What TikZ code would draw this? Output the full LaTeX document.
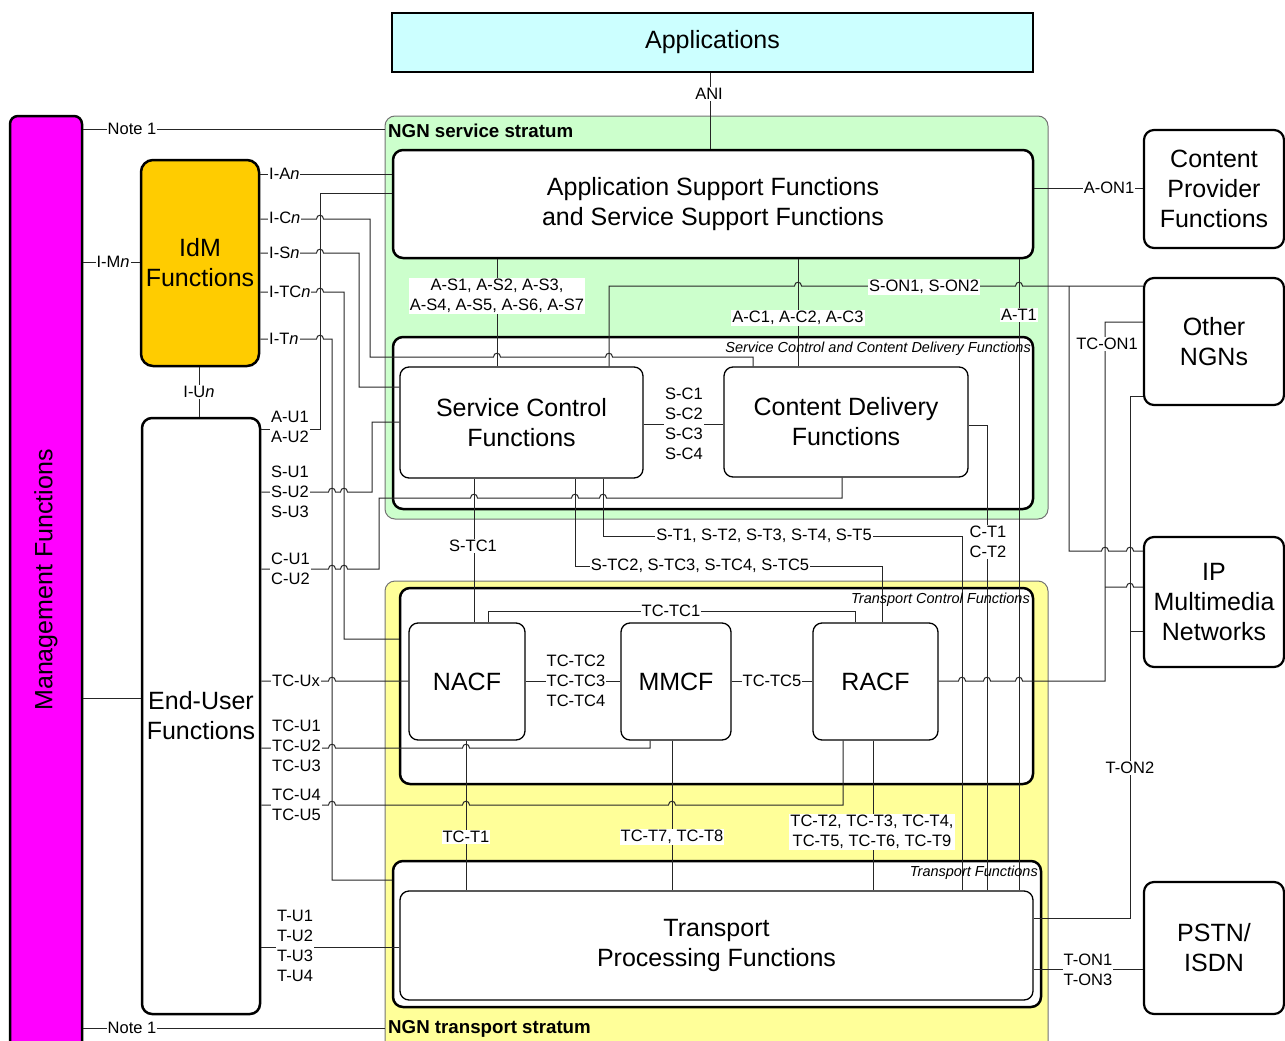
\documentclass[tikz,border=0pt]{standalone}
\usepackage{fontspec}
\setmainfont{Liberation Sans}
\definecolor{mgmtc}{HTML}{FF00FF}
\definecolor{appc}{HTML}{CCFFFF}
\definecolor{svcc}{HTML}{CCFFCC}
\definecolor{trnc}{HTML}{FFFF99}
\definecolor{idmc}{HTML}{FFCC00}
\newcommand\BoxFont{\fontsize{25}{30}\selectfont}
\newcommand\LblFont{\fontsize{16.5}{20}\selectfont}
\newcommand\TagFont{\fontsize{14.5}{17}\selectfont\itshape}
\newcommand\StratFont{\fontsize{18.7}{21}\selectfont\bfseries}
% a small bridge where a horizontal wire jumps over a vertical one
\newcommand\hop[2]{-- (#1-3.5,#2) .. controls (#1-3.5,#2-5) and (#1+3.5,#2-5) .. (#1+3.5,#2)}
\begin{document}
\begin{tikzpicture}[x=1pt,y=-1pt,
  sz/.style 2 args={minimum width=#1pt, minimum height=#2pt},
  heavybox/.style={draw=black, line width=2.5pt, rounded corners=10pt, fill=white,
    inner sep=0pt, align=center, font=\BoxFont},
  lightbox/.style={draw=black, line width=1.3pt, rounded corners=9pt, fill=white,
    inner sep=0pt, align=center, font=\BoxFont},
  extbox/.style={draw=black, line width=2.2pt, rounded corners=10pt, fill=white,
    inner sep=0pt, align=center, font=\BoxFont},
  stratum/.style={draw=black!55, line width=1pt, rounded corners=10pt, inner sep=0pt},
  wire/.style={draw=black!85, line width=1pt},
  lbl/.style={fill=white, inner sep=1pt, font=\LblFont, align=center},
  lbll/.style={fill=white, inner sep=1pt, font=\LblFont, align=left, anchor=west},
  tag/.style={inner sep=0pt, font=\TagFont, anchor=east},
  strat/.style={inner sep=0pt, font=\StratFont, anchor=west}]
\useasboundingbox (0,0) rectangle (1285,1041);

% strata and management column
\node[stratum, fill=svcc, sz={663}{403}] (svc) at (716.5,317.5) {};
\node[stratum, fill=trnc, sz={663}{480}] (trn) at (716.5,821) {};
\node[heavybox, fill=mgmtc, rounded corners=8pt, sz={72}{945}] (mgmt) at (46,588.5) {};
\node[rotate=90, font=\BoxFont] (mgmtt) at (46,580) {Management Functions};

% top level boxes
\node[heavybox, fill=appc, rounded corners=0pt, sz={641}{59}] (apps) at (712.5,42.5) {Applications};
\node[heavybox, sz={640}{108}] (asf) at (713,204) {Application Support Functions\\and Service Support Functions};
\node[heavybox, sz={640}{172}] (sccd) at (713,423) {};
\node[lightbox, sz={243}{111}] (scf) at (521.5,422.5) {Service Control\\Functions};
\node[lightbox, sz={244}{110}] (cdf) at (846,422) {Content Delivery\\Functions};
\node[heavybox, sz={633}{196}] (tcf) at (716.5,686) {};
\node[lightbox, sz={116}{117}] (nacf) at (467,681.5) {NACF};
\node[lightbox, sz={110}{117}] (mmcf) at (676,681.5) {MMCF};
\node[lightbox, sz={125}{117}] (racf) at (875.5,681.5) {RACF};
\node[heavybox, sz={648}{146}] (tf) at (717,934) {};
\node[lightbox, sz={633}{109}] (tpf) at (716.5,945.5) {Transport\\Processing Functions};
\node[heavybox, fill=idmc, rounded corners=12pt, sz={118}{206}] (idm) at (200,263) {IdM\\Functions};
\node[heavybox, sz={118}{596}] (euf) at (201,716) {End-User\\Functions};
\node[extbox, sz={140}{118}] (cpf) at (1214,189) {Content\\Provider\\Functions};
\node[extbox, sz={140}{127}] (ongn) at (1214,341.5) {Other\\NGNs};
\node[extbox, sz={140}{130}] (ipmn) at (1214,602) {IP\\Multimedia\\Networks};
\node[extbox, sz={140}{132}] (pstn) at (1214,948) {PSTN/\\ISDN};

% junctions of branching wires
\coordinate (sonj) at (1069,286);
\coordinate (tconj) at (1105,587);
\coordinate (tonj) at (1130,631);

% wires on the left
\draw[wire] (mgmt.east|-0,129) -- (svc.west|-0,129);
\draw[wire] (mgmt.east|-0,1028) -- (trn.west|-0,1028);
\draw[wire] (mgmt.east|-0,262) -- (idm.west|-0,262);
\draw[wire] (mgmt.east|-0,698) -- (euf.west|-0,698);
\draw[wire] (apps.south-|710,0) -- (asf.north-|710,0);
\draw[wire] (idm.east|-0,174) -- (asf.west|-0,174);
\draw[wire] (euf.east|-0,429) -- (320,429) -- (320,193) -- (asf.west|-0,193);
\draw[wire] (idm.east|-0,219) \hop{320}{219} -- (370,219) -- (370,357) \hop{497}{357} \hop{609}{357} -- (753,357) -- (cdf.north-|753,0);
\draw[wire] (idm.east|-0,253) \hop{320}{253} -- (359,253) -- (359,387) -- (scf.west|-0,387);
\draw[wire] (idm.east|-0,292) \hop{320}{292} -- (344,292) -- (344,639) -- (tcf.west|-0,639);
\draw[wire] (idm.east|-0,339) \hop{320}{339} -- (332,339) -- (332,880) -- (tf.west|-0,880);
\draw[wire] (idm.south-|199,0) -- (euf.north-|199,0);
\draw[wire] (euf.east|-0,492) \hop{332}{492} \hop{344}{492} -- (372,492) -- (372,422) -- (scf.west|-0,422);
\draw[wire] (euf.east|-0,569) \hop{332}{569} \hop{344}{569} -- (379,569) -- (379,498) \hop{474}{498} \hop{575}{498} \hop{603}{498} -- (842,498) -- (cdf.south-|842,0);
\draw[wire] (euf.east|-0,681) \hop{332}{681} -- (nacf.west|-0,681);
\draw[wire] (euf.east|-0,748) \hop{332}{748} \hop{466}{748} -- (650,748) -- (mmcf.south-|650,0);
\draw[wire] (euf.east|-0,805) \hop{332}{805} \hop{466}{805} \hop{672}{805} -- (843,805) -- (racf.south-|843,0);
\draw[wire] (euf.east|-0,947) -- (tpf.west|-0,947);

% wires inside the strata
\draw[wire] (asf.south-|497,0) -- (scf.north-|497,0);
\draw[wire] (asf.south-|798,0) -- (cdf.north-|798,0);
\draw[wire] (scf.north-|609,0) -- (609,286) \hop{798}{286} \hop{1019}{286} -- (ongn.west|-0,286);
\draw[wire] (sonj) -- (1069,551) \hop{1105}{551} \hop{1130}{551} -- (ipmn.west|-0,551);
\draw[wire] (asf.south-|1019,0) -- (tpf.north-|1019,0);
\draw[wire] (asf.east|-0,188) -- (cpf.west|-0,188);
\draw[wire] (scf.east|-0,424) -- (cdf.west|-0,424);
\draw[wire] (cdf.east|-0,425) -- (987,425) -- (tpf.north-|987,0);
\draw[wire] (scf.south-|603,0) -- (603,536) -- (962,536) -- (tpf.north-|962,0);
\draw[wire] (scf.south-|575,0) -- (575,566) -- (882,566) -- (racf.north-|882,0);
\draw[wire] (scf.south-|474,0) -- (nacf.north-|474,0);
\draw[wire] (nacf.north-|488,0) -- (488,611) -- (855,611) -- (racf.north-|855,0);
\draw[wire] (nacf.east|-0,681) -- (mmcf.west|-0,681);
\draw[wire] (mmcf.east|-0,681) -- (racf.west|-0,681);
\draw[wire] (nacf.south-|466,0) -- (tpf.north-|466,0);
\draw[wire] (mmcf.south-|672,0) -- (tpf.north-|672,0);
\draw[wire] (racf.south-|873,0) -- (tpf.north-|873,0);

% wires to the other networks
\draw[wire] (racf.east|-0,681) \hop{962}{681} \hop{987}{681} \hop{1019}{681} -- (1105,681) -- (1105,322) -- (ongn.west|-0,322);
\draw[wire] (tconj) \hop{1130}{587} -- (ipmn.west|-0,587);
\draw[wire] (ongn.west|-0,396) -- (1130,396) -- (1130,918) -- (tpf.east|-0,918);
\draw[wire] (tonj) -- (ipmn.west|-0,631);
\draw[wire] (tpf.east|-0,969) -- (pstn.west|-0,969);

% reference point labels
\node[lbl] (lnote1) at (132,129) {Note 1};
\node[lbl] (lnote2) at (132,1028) {Note 1};
\node[lbl] (limn) at (113,262) {I-M\textit{n}};
\node[lbl] (lani) at (709,94) {ANI};
\node[lbll] (lian) at (268,174) {I-A\textit{n}};
\node[lbll] (licn) at (268,218) {I-C\textit{n}};
\node[lbll] (lisn) at (268,253) {I-S\textit{n}};
\node[lbll] (litcn) at (268,292) {I-TC\textit{n}};
\node[lbll] (litn) at (268,339) {I-T\textit{n}};
\node[lbl] (liun) at (199,392) {I-U\textit{n}};
\node[lbll] (lau) at (270,427) {A-U1\\A-U2};
\node[lbll] (lsu) at (270,492) {S-U1\\S-U2\\S-U3};
\node[lbll] (lcu) at (270,569) {C-U1\\C-U2};
\node[lbll] (ltcux) at (271,681) {TC-Ux};
\node[lbll] (ltcu) at (271,746) {TC-U1\\TC-U2\\TC-U3};
\node[lbll] (ltcu4) at (271,805) {TC-U4\\TC-U5};
\node[lbll] (ltu) at (276,946) {T-U1\\T-U2\\T-U3\\T-U4};
\node[lbl] (las) at (497,296) {A-S1, A-S2, A-S3,\\A-S4, A-S5, A-S6, A-S7};
\node[lbl] (lac) at (798,318) {A-C1, A-C2, A-C3};
\node[lbl] (lson) at (924,287) {S-ON1, S-ON2};
\node[lbl] (lat) at (1019,315) {A-T1};
\node[lbl] (laon) at (1109,188) {A-ON1};
\node[lbl] (lsc) at (684,424) {S-C1\\S-C2\\S-C3\\S-C4};
\node[lbl] (lct) at (988,542) {C-T1\\C-T2};
\node[lbl] (lst) at (764,536) {S-T1, S-T2, S-T3, S-T4, S-T5};
\node[lbl] (lstc) at (700,566) {S-TC2, S-TC3, S-TC4, S-TC5};
\node[lbl] (lstc1) at (473,546) {S-TC1};
\node[lbl] (ltctc1) at (671,611) {TC-TC1};
\node[lbl] (ltctc2) at (576,681) {TC-TC2\\TC-TC3\\TC-TC4};
\node[lbl] (ltctc5) at (772,681) {TC-TC5};
\node[lbl] (ltct1) at (466,837) {TC-T1};
\node[lbl] (ltct7) at (672,837) {TC-T7, TC-T8};
\node[lbl] (ltct2) at (872,832) {TC-T2, TC-T3, TC-T4,\\TC-T5, TC-T6, TC-T9};
\node[lbl] (ltcon) at (1107,344) {TC-ON1};
\node[lbl] (lton2) at (1130,768) {T-ON2};
\node[lbl] (lton1) at (1088,970) {T-ON1\\T-ON3};

% group and stratum titles
\node[tag] (tsccd) at (1031,349) {Service Control and Content Delivery Functions};
\node[tag] (ttcf) at (1030,600) {Transport Control Functions};
\node[tag] (ttf) at (1038,873) {Transport Functions};
\node[strat] (tsvc) at (388,130.5) {NGN service stratum};
\node[strat] (ttrn) at (388,1028.5) {NGN transport stratum};
\end{tikzpicture}
\end{document}
